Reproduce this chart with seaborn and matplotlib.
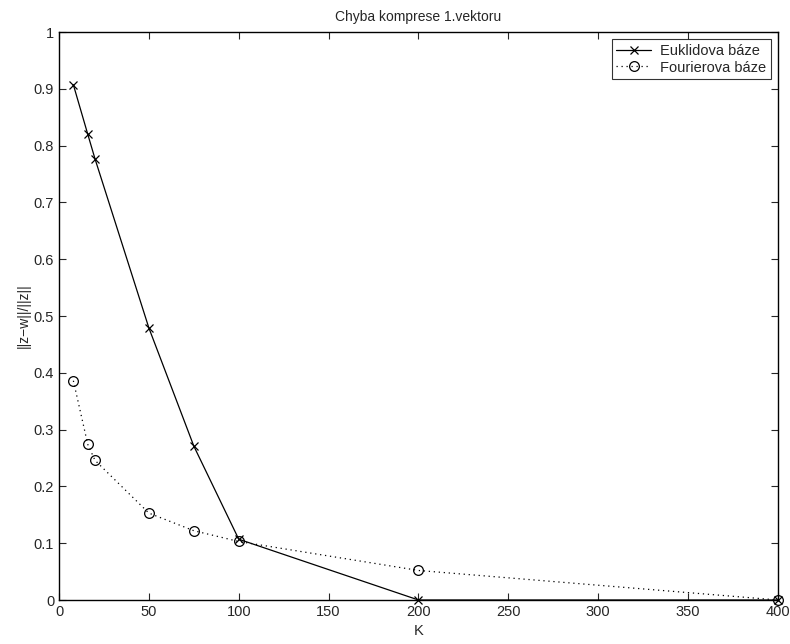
import matplotlib
matplotlib.use("Agg")
import matplotlib.pyplot as plt
import seaborn as sb
import pandas as pd

K = [8, 16, 20, 50, 75, 100, 200, 400]
euklid = [0.907, 0.820, 0.777, 0.479, 0.271, 0.107, 0.0, 0.0]
fourier = [0.386, 0.274, 0.246, 0.153, 0.122, 0.103, 0.052, 0.0]

df = pd.DataFrame({"K": K, "euklid": euklid, "fourier": fourier})

sb.set_style("ticks")
plt.rcParams['font.family'] = ['Liberation Sans', 'DejaVu Sans']
plt.rcParams['xtick.direction'] = 'in'
plt.rcParams['ytick.direction'] = 'in'

fig = plt.figure(figsize=(7.9, 6.44), dpi=100)
ax = fig.add_axes([59/790, 44/644, 719/790, 568/644])

sb.lineplot(data=df, x="K", y="euklid", ax=ax, color="black", linewidth=0.9,
            marker="x", markersize=6, markeredgecolor="black", markeredgewidth=0.9,
            label="Euklidova báze", clip_on=False, zorder=3)
sb.lineplot(data=df, x="K", y="fourier", ax=ax, color="black", linewidth=0.9,
            linestyle=(0, (1, 3)), marker="o", markersize=7, markerfacecolor="none",
            markeredgecolor="black", markeredgewidth=0.9, label="Fourierova báze",
            clip_on=False, zorder=3)

ax.set_xlim(0, 400)
ax.set_ylim(0, 1)
ax.set_xticks(range(0, 401, 50))
ax.set_yticks([i / 10 for i in range(11)])
ax.set_yticklabels(["0", "0.1", "0.2", "0.3", "0.4", "0.5", "0.6", "0.7", "0.8", "0.9", "1"])
ax.tick_params(labelsize=10.5, length=5, width=0.8, top=True, right=True)
for s in ax.spines.values():
    s.set_visible(True)
    s.set_linewidth(1.0)
    s.set_color("black")

ax.set_title("Chyba komprese 1.vektoru", fontsize=10, pad=8)
ax.set_xlabel("K", fontsize=10.5, labelpad=4)
ax.set_ylabel("||z\u2212w||/||z||", fontsize=10, labelpad=2)

leg = ax.legend(loc="upper right", fontsize=10.5, frameon=True, fancybox=False,
                borderaxespad=0.5, handlelength=2.4, borderpad=0.3,
                labelspacing=0.2, handletextpad=0.6)
leg.get_frame().set_edgecolor("black")
leg.get_frame().set_linewidth(0.8)

fig.savefig("out.png", dpi=100)
